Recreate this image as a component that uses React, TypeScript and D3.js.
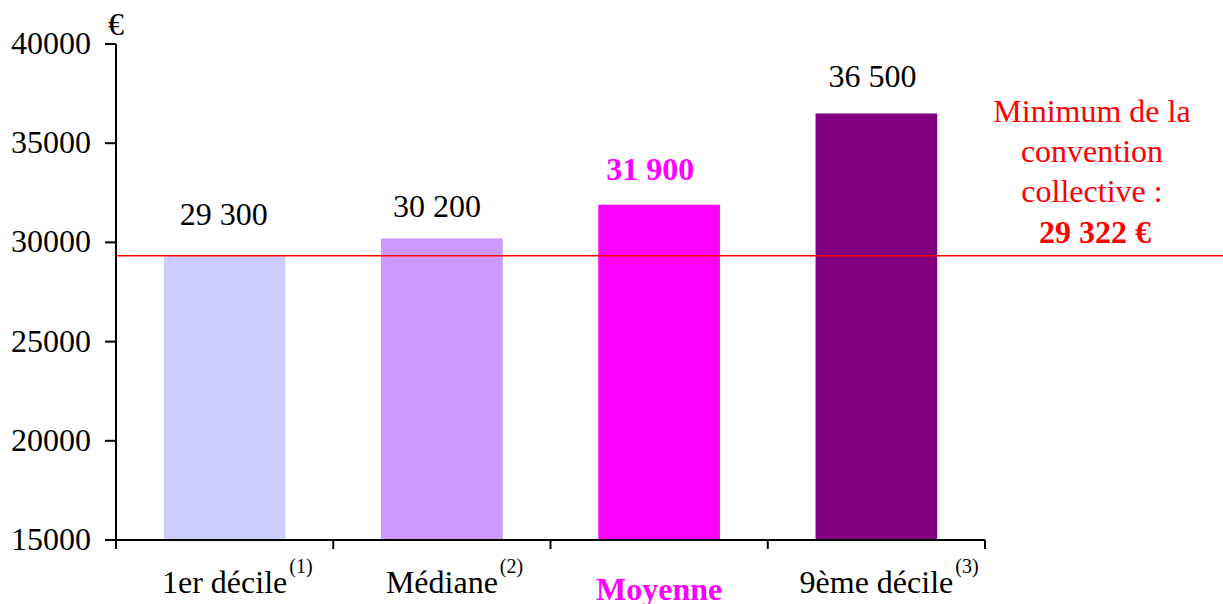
import React, { useLayoutEffect, useRef, useState } from "react";
import * as d3 from "d3";

const categories = ["1er décile", "Médiane", "Moyenne", "9ème décile"];
const notes = ["(1)", "(2)", "", "(3)"];
const values = [29300, 30200, 31900, 36500];
const valueLabels = ["29 300", "30 200", "31 900", "36 500"];
const barColors = ["#CCCCFF", "#CC99FF", "#FF00FF", "#800080"];
const highlight = [false, false, true, false];
const yTicks = [15000, 20000, 25000, 30000, 35000, 40000];
const minimumValue = 29322;
const annotationLines = ["Minimum de la", "convention", "collective :"];
const annotationValue = "29 322 €";

const W = 1223;
const H = 604;
const FONT = "Liberation Serif, Times New Roman, serif";
const FS = 32;
// layout nudges for the value labels (pixels)
const valueLabelDy = [-31, -21, -25, -26];
const valueLabelDx = [-1, -5, -9, -4];

function NotedLabel({ cx, y, label, note }: { cx: number; y: number; label: string; note: string }) {
  const ref = useRef<SVGTextElement>(null);
  const [w, setW] = useState(0);
  useLayoutEffect(() => {
    if (ref.current) setW(ref.current.getComputedTextLength());
  }, [label]);
  return (
    <g>
      <text ref={ref} x={cx} y={y} textAnchor="middle" fontSize={FS} style={{ fontFamily: FONT }}>
        {label}
      </text>
      {note ? (
        <text x={cx + w / 2 + 2} y={y - 20} fontSize={20} style={{ fontFamily: FONT }}>
          {note}
        </text>
      ) : null}
    </g>
  );
}

export default function App() {
  const x = d3.scaleBand<string>().domain(categories).range([116, 985]).paddingInner(0.44).paddingOuter(0.22);
  const y = d3.scaleLinear().domain([15000, 40000]).range([540, 44]);
  const bandEdges = [...categories.map((c) => x(c)! - (x.step() - x.bandwidth()) / 2), 985];

  return (
    <svg width={W} height={H} style={{ position: "absolute", left: 0, top: 0, fontFamily: FONT }}>
      <rect x={0} y={0} width={W} height={H} fill="#fff" />
      {categories.map((c, i) => (
        <rect key={c} x={x(c)} y={y(values[i])} width={x.bandwidth()} height={540 - y(values[i])} fill={barColors[i]} />
      ))}
      {/* y axis */}
      <line x1={116} x2={116} y1={y(40000)} y2={y(15000)} stroke="#000" strokeWidth={2} />
      {yTicks.map((t) => (
        <g key={t}>
          <line x1={105} x2={116} y1={y(t)} y2={y(t)} stroke="#000" strokeWidth={2} />
          <text x={91} y={y(t) + 10} textAnchor="end" fontSize={FS} style={{ fontFamily: FONT }}>{t}</text>
        </g>
      ))}
      <text x={108} y={35} fontSize={FS} style={{ fontFamily: FONT }}>€</text>
      {/* x axis */}
      <line x1={116} x2={985} y1={540} y2={540} stroke="#000" strokeWidth={2} />
      {bandEdges.map((e, i) => (
        <line key={i} x1={e} x2={e} y1={540} y2={549} stroke="#000" strokeWidth={2} />
      ))}
      {/* red minimum line */}
      <line x1={116} x2={W} y1={y(minimumValue)} y2={y(minimumValue)} stroke="#FF0000" strokeWidth={1.5} />
      {/* value labels */}
      {categories.map((c, i) => (
        <text
          key={c}
          x={x(c)! + x.bandwidth() / 2 + valueLabelDx[i]}
          y={y(values[i]) + valueLabelDy[i]}
          textAnchor="middle"
          fontSize={FS}
          fontWeight={highlight[i] ? "bold" : "normal"}
          fill={highlight[i] ? "#FF00FF" : "#000"}
          style={{ fontFamily: FONT }}
        >
          {valueLabels[i]}
        </text>
      ))}
      {/* category labels */}
      {categories.map((c, i) =>
        highlight[i] ? (
          <text
            key={c}
            x={x(c)! + x.bandwidth() / 2}
            y={600}
            textAnchor="middle"
            fontSize={FS}
            fontWeight="bold"
            fill="#FF00FF"
            style={{ fontFamily: FONT }}
          >
            {c}
          </text>
        ) : (
          <NotedLabel key={c} cx={x(c)! + x.bandwidth() / 2} y={593} label={c} note={notes[i]} />
        )
      )}
      {/* annotation */}
      {annotationLines.map((l, i) => (
        <text key={l} x={1092} y={122 + i * 40} textAnchor="middle" fontSize={FS} fill="#FF0000" style={{ fontFamily: FONT }}>{l}</text>
      ))}
      <text x={1095} y={243} textAnchor="middle" fontSize={FS} fontWeight="bold" fill="#FF0000" style={{ fontFamily: FONT }}>{annotationValue}</text>
    </svg>
  );
}
